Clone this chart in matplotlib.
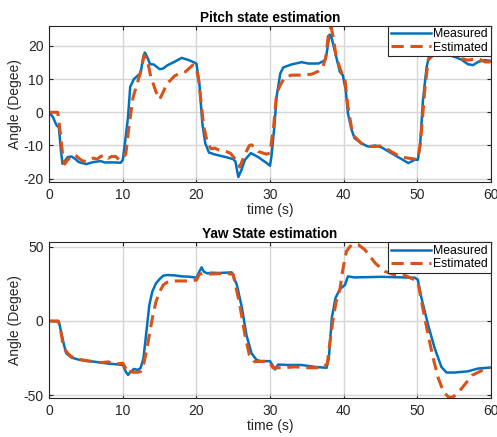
import numpy as np
import matplotlib
matplotlib.use("Agg")
import matplotlib.pyplot as plt

plt.rcParams['font.family'] = ['Liberation Sans', 'DejaVu Sans']
plt.rcParams['axes.unicode_minus'] = False

# pitch data
pm_t = [0, 0.5, 1, 1.3, 1.6, 1.8, 2, 2.5, 3, 3.5, 4, 5, 6, 7, 7.5, 8, 9, 9.7, 10, 10.3, 10.7, 11, 11.5, 12, 12.4,
        12.8, 13, 13.3, 13.7, 14.2, 15, 15.5, 16, 17, 18, 19, 19.5, 20, 20.4, 20.8, 21.2, 21.7, 22.5, 24, 25, 25.3,
        25.7, 26.1, 26.6, 27.4, 28.4, 29.5, 30, 30.2, 30.6, 30.9, 31.4, 31.8, 32.9, 34.3, 35.2, 36.6, 37.5, 37.7,
        38.1, 38.3, 38.9, 39.5, 39.9, 40.3, 40.6, 41.1, 41.5, 42.4, 43.3, 44.3, 45.2, 46.5, 47.9, 48.8, 49.7, 50.1,
        50.4, 50.8, 51.3, 51.7, 52.5, 54, 55.1, 56, 56.9, 57.6, 58.3, 59.2, 60]
pm_v = [0, -1.5, -4, -4.5, -12, -15.5, -15, -13.5, -13.3, -14, -15, -15.6, -15, -14.7, -15.1, -15.1, -15.1, -15.2,
        -14.3, -9, -1.5, 7.7, 10, 11, 11.7, 17, 18, 16.7, 14.5, 14.4, 13, 13.2, 14.1, 15.2, 16.4, 15.7, 15.2, 14.7,
        8.7, -3.3, -9.3, -12.1, -12.7, -13.5, -14.1, -14.8, -19.5, -17.5, -14.3, -12.3, -13.5, -15.2, -16.1, -13.3,
        -4.3, 4.7, 11.7, 13.5, 14.4, 15.1, 14.7, 14.7, 15.7, 17.7, 23.4, 23.2, 17.7, 12.2, 11.2, 6.7, -0.3, -5.3,
        -7.8, -9.3, -10.3, -10, -10.6, -12.3, -14.1, -15.3, -14.3, -14.3, -10.3, 3.7, 13.7, 17.5, 18, 17.5, 16.7,
        15.9, 14.5, 14.2, 15.2, 15.7, 15.5]
pe_t = [0, 1.15, 1.5, 1.9, 2.1, 2.5, 3, 3.5, 4, 4.5, 5, 5.5, 6, 6.5, 7, 7.5, 8, 8.5, 9, 9.5, 10, 10.4, 10.9, 11.4,
        12, 12.5, 12.9, 13.3, 13.8, 14.5, 15, 15.5, 16, 16.5, 17, 17.5, 18, 18.5, 19, 19.5, 20, 20.3, 20.6, 21, 21.5,
        22, 22.5, 23, 24, 24.6, 25, 25.5, 25.9, 26.5, 27.2, 27.5, 28.4, 29.5, 30, 30.5, 30.9, 31.4, 32, 32.9, 34.3,
        35.7, 36.6, 37.2, 37.6, 37.9, 38.3, 38.6, 39, 39.7, 40.2, 40.6, 41.1, 41.5, 42.4, 43.3, 44.3, 45.2, 46.1, 47,
        47.9, 48.8, 49.7, 50.1, 50.5, 51, 51.5, 52.5, 54, 55.1, 56, 56.9, 58.3, 59.2, 60]
pe_v = [0, 0, -6.3, -14.5, -15.6, -14.3, -13.3, -12.8, -13.8, -14.6, -14.8, -14.1, -13.8, -14.1, -13.3, -12.8, -13.8,
        -13.3, -13.3, -14.3, -13.8, -12.5, -3, 4.6, 9, 13, 17.2, 16, 10.7, 6.2, 3.9, 6.2, 8.7, 9.7, 10.9, 11.5, 11.9,
        12.2, 13.2, 14.2, 13.2, 9.7, 3.7, -4.3, -9.3, -11, -10.8, -11.3, -11.8, -12.3, -13.3, -15, -16.5, -13, -10,
        -9.8, -11.8, -12.6, -12.3, -4.3, 5.7, 8.2, 10.5, 11.2, 11.2, 11.5, 12.4, 13.7, 16.7, 22.7, 25.7, 22.7, 16.7,
        12.2, 9.7, 1.7, -4.8, -7.3, -9.3, -10.3, -10.3, -10.1, -11.3, -12.5, -13.5, -13.8, -14.1, -14.3, -8.3, 5.7,
        15.7, 18, 17.5, 17.2, 16.2, 15.7, 16.2, 15.2, 15.2]

# yaw data
ym_t = [0, 1.3, 1.7, 2, 2.3, 2.7, 3, 4, 5, 6, 7, 8, 9, 10, 10.4, 10.7, 11, 11.5, 12, 12.4, 12.8, 13.2, 13.6, 14,
        14.5, 15, 15.5, 16, 17, 18, 19, 20, 20.4, 20.7, 21, 21.5, 22, 23, 24, 24.8, 25.5, 26.2, 26.8, 27.5, 28.2,
        28.8, 30, 30.7, 31.1, 32.5, 34.3, 36.1, 37.7, 38, 38.4, 38.9, 39.5, 40.2, 40.6, 41.5, 45.2, 49.7, 50.1,
        50.6, 51.5, 52.4, 53.3, 54, 55.1, 56.9, 58.3, 60]
ym_v = [0, -0.4, -9.4, -16.2, -21.8, -23.4, -24.7, -26.1, -27, -27.4, -28.1, -28.8, -29.2, -29.7, -34.2, -36.4,
        -34.6, -32.4, -33, -31.9, -25.2, -7.2, 10.8, 19.8, 25.4, 28.3, 30.6, 31, 30.8, 30.1, 29.9, 29.2, 33.3, 36.2,
        33.3, 32.1, 32.6, 32.4, 32.6, 32.8, 24.4, 8.6, -9.5, -21.9, -26.4, -27.1, -27.1, -32.7, -29.4, -29.7, -29.7,
        -31, -31.6, -25.3, 1.8, 15.4, 21.5, 24.4, 30.1, 29.4, 29.8, 29.2, 27.8, 15.4, -2.7, -18.5, -31, -34.8,
        -34.8, -34, -32.1, -31.4]
ye_t = [0, 1.2, 1.5, 1.8, 2, 2.5, 3, 4, 5, 6, 7, 8, 9, 10, 10.5, 10.8, 11, 11.5, 12, 12.4, 12.8, 13.2, 13.6, 14,
        14.5, 15, 15.5, 16, 17, 18, 19, 20, 20.4, 20.8, 22, 24, 25, 25.2, 25.9, 26.6, 27.2, 27.9, 29.8, 30.4, 31.6,
        33.4, 35.2, 37.2, 37.8, 38.1, 38.6, 39, 39.5, 39.9, 40.4, 41.1, 42, 42.9, 44.3, 45.6, 47, 48.5, 50.1, 50.6,
        51.5, 52.2, 52.9, 53.6, 54.3, 54.8, 55.5, 56.4, 57.5, 58.9, 60]
ye_v = [0, 0, -4.9, -13.9, -18.4, -21.8, -24, -25.8, -26.7, -27.4, -28.1, -27.6, -29, -28.5, -33, -35.3, -34.2,
        -34.6, -34.6, -34.2, -29.7, -20.7, -9.4, 1.8, 13, 19.8, 24.3, 26.1, 27, 27, 27, 27.6, 31.5, 32.1, 31.7, 32.1,
        31.5, 26.7, 10.8, -9.5, -23, -27.5, -27.1, -31.6, -31.6, -31, -31.6, -31.6, -28.7, -16.3, 1.8, 13.1, 21,
        34.6, 47.1, 51.5, 51.5, 48.1, 39.1, 33.5, 31, 30.5, 26.7, 13.1, -9.5, -25.3, -38.9, -47.9, -51.5, -51.5, -49,
        -43.4, -36.6, -33.2, -31.4]

blue = '#0072BD'
orange = '#D95319'
dark = '#262626'

fig = plt.figure(figsize=(4.97, 4.37), dpi=100)
ax1 = fig.add_axes([0.0992, 0.5835, 0.888, 0.357])
ax2 = fig.add_axes([0.0992, 0.0892, 0.888, 0.356])

panels = [
    (ax1, pm_t, pm_v, pe_t, pe_v, 'Pitch state estimation', (-21, 26), [-20, -10, 0, 10, 20]),
    (ax2, ym_t, ym_v, ye_t, ye_v, 'Yaw State estimation', (-52, 53), [-50, 0, 50]),
]

for ax, mt, mv, et, ev, title, ylim, yt in panels:
    ax.plot(mt, mv, color=blue, lw=1.8, label='Measured')
    ax.plot(et, ev, color=orange, lw=2.2, dashes=(4, 2.2), label='Estimated')
    ax.set_xlim(0, 60)
    ax.set_ylim(*ylim)
    ax.set_xticks(np.arange(0, 61, 10))
    ax.set_yticks(yt)
    ax.grid(True, color='#d6d6d6', lw=1)
    ax.set_axisbelow(True)
    ax.tick_params(direction='in', top=True, right=True, labelsize=10, colors=dark, length=3, width=0.8, pad=4)
    for s in ax.spines.values():
        s.set_color(dark)
        s.set_linewidth(0.8)
    ax.set_title(title, fontsize=9.8, fontweight='bold', pad=3)
    ax.set_xlabel('time (s)', fontsize=10, color=dark, labelpad=1)
    ax.set_ylabel('Angle (Degee)', fontsize=10, color=dark, labelpad=1)
    leg = ax.legend(loc='upper right', fontsize=8.8, borderaxespad=0, fancybox=False, framealpha=1,
                    edgecolor=dark, handlelength=3.3, handletextpad=0.2, labelspacing=0.1, borderpad=0.2)
    leg.get_frame().set_linewidth(0.8)

fig.savefig('out.png', dpi=100)
